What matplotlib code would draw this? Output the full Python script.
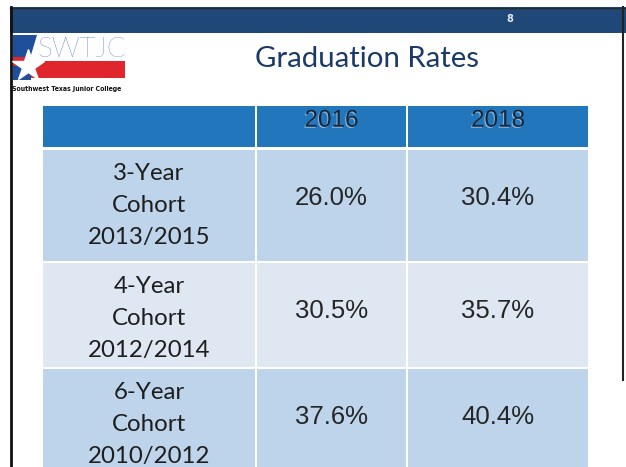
import matplotlib
matplotlib.use("Agg")
import matplotlib.pyplot as plt
from matplotlib.patches import Rectangle, Polygon
import matplotlib.patheffects as pe

# ---- data ----
years = ["2016", "2018"]
cohorts = ["3-Year", "4-Year", "6-Year"]
cohort_periods = ["2013/2015", "2012/2014", "2010/2012"]
rates_2016 = [26.0, 30.5, 37.6]
rates_2018 = [30.4, 35.7, 40.4]
title = "Graduation Rates"
page_number = "8"

W, H = 626, 467
fig = plt.figure(figsize=(W / 100, H / 100), dpi=100)
ax = fig.add_axes([0, 0, 1, 1])
ax.set_xlim(0, W)
ax.set_ylim(H, 0)
ax.axis("off")
renderer = fig.canvas.get_renderer()


def fit(t, width):
    bb = t.get_window_extent(renderer)
    t.set_fontsize(t.get_fontsize() * width / bb.width)
    return t


# ---- slide frame ----
ax.add_patch(Rectangle((10, 7), W - 10, 26, color="#1F4777", lw=0))
ax.plot([10, W], [7.5, 7.5], color="#2a2a2a", lw=1)
ax.plot([11, 11], [7, H], color="#111111", lw=2)
ax.plot([623, 623], [7, 380], color="#222222", lw=1.5)
ax.text(510, 19, page_number, color="#e4e9f0", fontsize=7, fontweight="bold",
        ha="center", va="center", family="DejaVu Sans")

# ---- logo ----
ax.add_patch(Polygon([(13, 35), (37, 35), (31, 55), (31, 80), (13, 80)],
                     closed=True, color="#1F4E9A", lw=0))
ax.add_patch(Rectangle((31, 61), 94, 17, color="#E0262C", lw=0))
ax.add_patch(Rectangle((13, 57), 12, 9, color="#E0262C", lw=0))
ax.plot(28, 66, marker="*", markersize=24, color="white", mec="white")
t = ax.text(37, 57, "SWTJC", color="#2457A8", fontsize=20, family="Lato",
            fontweight="light", ha="left", va="baseline")
fit(t, 89)
t = ax.text(12, 89, "Southwest Texas Junior College", color="#111111", fontsize=6,
            family="DejaVu Sans", fontstretch="condensed", fontweight="bold",
            ha="left", va="center")
fit(t, 110)

# ---- title ----
t = ax.text(255, 67, title, color="#1B3A68", fontsize=22, family="Lato",
            ha="left", va="baseline")
fit(t, 223)

# ---- table ----
col_edges = [(43, 255), (257, 406), (408, 588)]
header_rows = (106, 147)
row_edges = [(150, 261), (263, 367), (369, 480)]
header_color = "#2176BC"
row_colors = ["#BDD4EB", "#DFE7F3", "#BDD4EB"]

for (x0, x1) in col_edges:
    ax.add_patch(Rectangle((x0, header_rows[0]), x1 - x0, header_rows[1] - header_rows[0],
                           color=header_color, lw=0))
    for (y0, y1), c in zip(row_edges, row_colors):
        ax.add_patch(Rectangle((x0, y0), x1 - x0, y1 - y0, color=c, lw=0))

shadow = [pe.withSimplePatchShadow(offset=(-0.8, -0.8), shadow_rgbFace="white", alpha=0.45)]
for (x0, x1), yr in zip(col_edges[1:], years):
    ax.text((x0 + x1) / 2, header_rows[0] + 20.7, yr, color="#18263A",
            fontsize=17.5, family="Liberation Sans", ha="center", va="baseline",
            path_effects=shadow)

series = [rates_2016, rates_2018]
for i, ((y0, y1), cohort, period) in enumerate(zip(row_edges, cohorts, cohort_periods)):
    cx = (col_edges[0][0] + col_edges[0][1]) / 2
    for k, line in enumerate([cohort, "Cohort", period]):
        t = ax.text(cx, y0 + 30 + 32 * k, line, color="#1E1E1E", fontsize=19,
                    family="Lato", ha="center", va="baseline")
        if line == period:
            fit(t, 122)
            lab_fs = t.get_fontsize()
    for txt in ax.texts[-3:]:
        txt.set_fontsize(lab_fs)
    for (x0, x1), vals in zip(col_edges[1:], series):
        ax.text((x0 + x1) / 2, y0 + 55, f"{vals[i]:.1f}%", color="#262626",
                fontsize=18.5, family="Liberation Sans", ha="center", va="baseline")

fig.savefig("out.png", dpi=100, facecolor="white")
